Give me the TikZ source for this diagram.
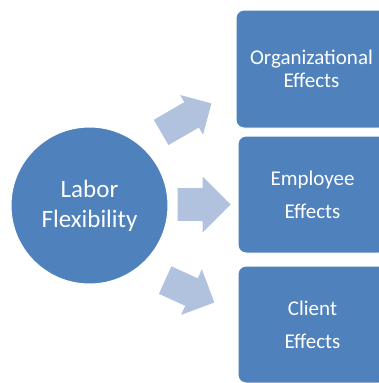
\documentclass[tikz,border=0pt]{standalone}
\usepackage{fontspec}
\setmainfont{Carlito}
\usetikzlibrary{shapes.arrows}
\definecolor{darkblue}{RGB}{79,129,189}
\definecolor{lightblue}{RGB}{176,194,222}
\begin{document}
\begin{tikzpicture}[x=1pt,y=-1pt]
  \tikzstyle{hub}=[circle,fill=darkblue,draw=white,line width=1pt,minimum size=157pt,
    text=white,align=center,font=\fontsize{25}{30}\selectfont]
  \tikzstyle{effect}=[rectangle,rounded corners=8pt,fill=darkblue,draw=white,line width=1pt,
    text=white,align=center,minimum width=151pt,minimum height=118pt]
  \tikzstyle{push}=[single arrow,fill=lightblue,draw=none,inner xsep=0pt,
    single arrow head indent=0pt,anchor=tail]
  \useasboundingbox (0,0) rectangle (378,383);

  \node[hub] (C) at (89.5,205.5) {Labor\\Flexibility};

  \node[effect,font=\fontsize{21}{23}\selectfont] (B_1) at (311.5,69)
        {Organizational\\Effects};
  \node[effect,font=\fontsize{21}{33}\selectfont,minimum width=149pt,minimum height=117pt]
        (B_2) at (312.5,194.5) {Employee\\Effects};
  \node[effect,font=\fontsize{21}{33}\selectfont,minimum width=149pt,minimum height=117pt]
        (B_3) at (312.5,324.5) {Client\\Effects};

  \node[push,rotate=30,minimum height=58pt,inner ysep=14.4pt,
        single arrow head extend=8.3pt] (A_1) at (161,132.5) {};
  \node[push,minimum height=53pt,inner ysep=16.2pt,
        single arrow head extend=11.6pt] (A_2) at (177.5,204.5) {};
  \node[push,rotate=-24.5,minimum height=54pt,inner ysep=14.9pt,
        single arrow head extend=10pt] (A_3) at (165,280) {};
\end{tikzpicture}
\end{document}
